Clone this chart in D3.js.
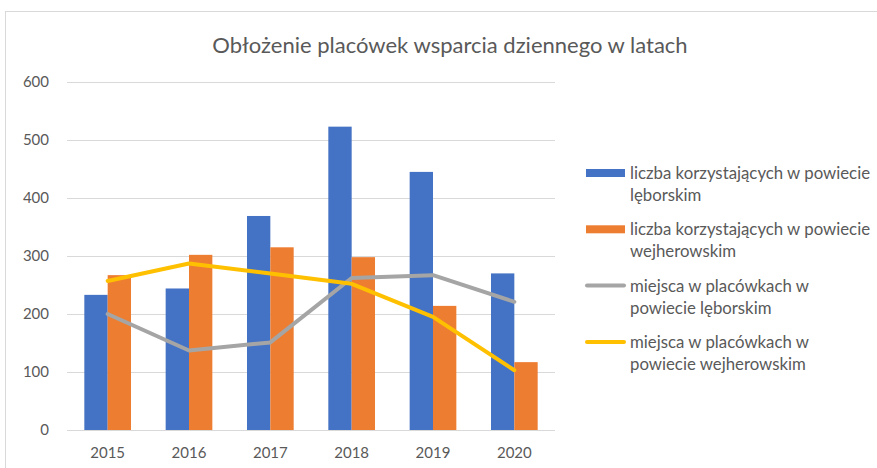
<!DOCTYPE html>
<html>
<head>
<meta charset="utf-8">
<script src="https://cdn.jsdelivr.net/npm/d3@7"></script>
<style>
  body { margin: 0; background: #fff; }
  text { font-family: Lato, "Open Sans", sans-serif; fill: #595959; }
</style>
</head>
<body>
<div id="chart"></div>
<script>
const years = ["2015", "2016", "2017", "2018", "2019", "2020"];
const usersLebork = [233, 244, 369, 523, 445, 270];
const usersWejherowo = [267, 302, 315, 298, 214, 117];
const placesLebork = [200, 137, 151, 262, 267, 221];
const placesWejherowo = [257, 287, 270, 252, 195, 103];
const yTicks = [0, 100, 200, 300, 400, 500, 600];

const barSeries = [
    {name: "liczba korzystających w powiecie\nlęborskim", values: usersLebork, color: "#4472c4"},
    {name: "liczba korzystających w powiecie\nwejherowskim", values: usersWejherowo, color: "#ed7d31"}
];
const lineSeries = [
    {name: "miejsca w placówkach w\npowiecie lęborskim", values: placesLebork, color: "#a5a5a5"},
    {name: "miejsca w placówkach w\npowiecie wejherowskim", values: placesWejherowo, color: "#ffc000"}
];

const W = 877, H = 468;
const plot = {left: 67, right: 555, top: 82, bottom: 430};

const svg = d3.select("#chart").append("svg")
    .attr("width", W).attr("height", H);

// chart frame
svg.append("rect").attr("x", 5.5).attr("y", 11.5).attr("width", 900).attr("height", 500)
    .attr("fill", "none").attr("stroke", "#d9d9d9");

svg.append("text").attr("x", 450).attr("y", 53).attr("text-anchor", "middle")
    .style("font-size", "22px").text("Obłożenie placówek wsparcia dziennego w latach");

const x = d3.scaleBand().domain(years).range([plot.left, plot.right]).paddingInner(0.426).paddingOuter(0.213);
const xc = d => x(d) + x.bandwidth() / 2;
const y = d3.scaleLinear().domain([0, 600]).range([plot.bottom, plot.top]);

// gridlines and y labels
const yAxis = svg.append("g").attr("transform", `translate(${plot.left},0)`)
    .call(d3.axisLeft(y).tickValues(yTicks).tickSize(-(plot.right - plot.left)).tickPadding(18));
yAxis.select(".domain").remove();
yAxis.selectAll("line").attr("stroke", "#d9d9d9");
yAxis.selectAll("text").style("font-size", "15px").attr("fill", "#595959");

const xAxis = svg.append("g").attr("transform", `translate(0,${plot.bottom})`)
    .call(d3.axisBottom(x).tickSize(0).tickPadding(17));
xAxis.select(".domain").remove();
xAxis.selectAll("text").style("font-size", "15px").attr("fill", "#595959");

// bars
const sub = d3.scaleBand().domain([0, 1]).range([0, x.bandwidth()]);
barSeries.forEach((s, i) => {
    svg.append("g").selectAll("rect").data(s.values).join("rect")
        .attr("x", (d, j) => x(years[j]) + sub(i))
        .attr("width", sub.bandwidth())
        .attr("y", d => y(d))
        .attr("height", d => y(0) - y(d))
        .attr("fill", s.color);
});

// lines
const line = d3.line().x((d, j) => xc(years[j])).y(d => y(d));
lineSeries.forEach(s => {
    svg.append("path").datum(s.values)
        .attr("d", line)
        .attr("fill", "none").attr("stroke", s.color)
        .attr("stroke-width", 4).attr("stroke-linejoin", "round").attr("stroke-linecap", "round");
});

// legend
const legend = svg.append("g");
const entries = barSeries.map(s => ({...s, type: "bar"})).concat(lineSeries.map(s => ({...s, type: "line"})));
entries.forEach((e, i) => {
    const cy = 173 + i * 56.3;
    const g = legend.append("g");
    if (e.type === "bar") {
        g.append("rect").attr("x", 586).attr("y", cy - 4).attr("width", 39).attr("height", 8).attr("fill", e.color);
    } else {
        g.append("line").attr("x1", 587).attr("x2", 624).attr("y1", cy).attr("y2", cy)
            .attr("stroke", e.color).attr("stroke-width", 4).attr("stroke-linecap", "round");
    }
    e.name.split("\n").forEach((t, k) => {
        g.append("text").attr("x", 630).attr("y", cy + 6 + k * 22)
            .style("font-size", "16.8px").text(t);
    });
});
</script>
</body>
</html>
